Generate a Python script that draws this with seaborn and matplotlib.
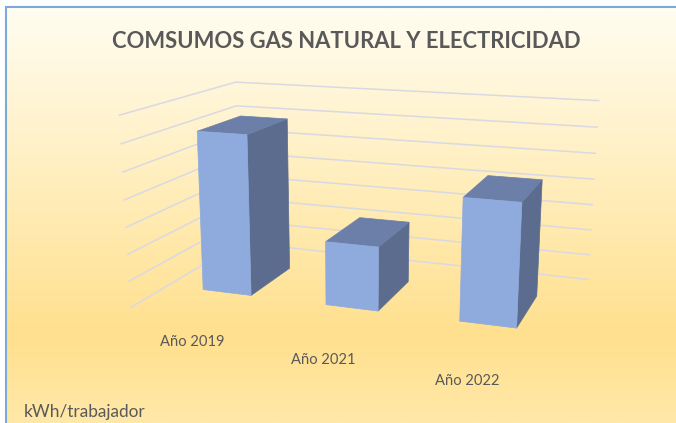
import numpy as np
import pandas as pd
import seaborn as sns
import matplotlib
matplotlib.use("Agg")
import matplotlib.pyplot as plt
from matplotlib.colors import LinearSegmentedColormap

# ---- data ----
CATEGORIES = ["Año 2019", "Año 2021", "Año 2022"]
VALUES = [6.07, 2.38, 4.43]
GRID_LEVELS = [0, 1, 2, 3, 4, 5, 6, 7]
TITLE = "COMSUMOS GAS NATURAL Y ELECTRICIDAD"
UNIT_LABEL = "kWh/trabajador"

# ---- perspective camera: (category, value, depth) -> figure pixels ----
CAMERA = np.array([[115.156747, -2.350765, 160.204814, 130.239962],
                   [2.871805, -28.278713, -14.337953, 307.746148],
                   [-0.042706, -0.006682, 0.209225, 1.0]])
BAR_WIDTH, DEPTH_FRONT, DEPTH_BACK = 0.40, 0.304, 0.703


def project(x, y, z):
    h = CAMERA @ np.array([x, y, z, 1.0])
    return h[0] / h[2], h[1] / h[2]


sns.set_theme(style="white")
plt.rcParams["font.family"] = ["Lato", "DejaVu Sans"]
fig = plt.figure(figsize=(6.76, 4.23), dpi=100)
ax = fig.add_axes([0, 0, 1, 1])

# chart-area background
stops = [(0.0, "#FFFDF1"), (0.79, "#FFE08E"), (1.0, "#FFE8A8")]
cmap = LinearSegmentedColormap.from_list("bg", stops)
ax.imshow(np.linspace(0, 1, 256)[:, None], cmap=cmap, aspect="auto",
          extent=(6, 676, 423, 8), zorder=0)
ax.plot([5.5, 5.5], [7, 423], color="#7BA9D9", lw=1.5, zorder=1, solid_capstyle="butt")
ax.plot([5, 676], [7.5, 7.5], color="#7BA9D9", lw=1.5, zorder=1, solid_capstyle="butt")

# gridlines on the side and back walls
rows = []
n_cats = len(CATEGORIES)
for level in GRID_LEVELS:
    for order, (cx, cz) in enumerate([(0, 0), (0, 1), (n_cats, 1)]):
        px, py = project(cx, level, cz)
        rows.append({"px": px, "py": py, "level": level, "order": order})
grid = pd.DataFrame(rows)
sns.lineplot(data=grid, x="px", y="py", units="level", estimator=None, sort=False,
             color="#D9D9E3", lw=1.1, ax=ax, zorder=2)

# bars
FRONT, TOP, SIDE = "#8FAADC", "#6B7FA8", "#5B6C8F"
for i, value in enumerate(VALUES):
    x0 = i + 0.5 - BAR_WIDTH / 2
    x1 = i + 0.5 + BAR_WIDTH / 2
    faces = [
        (SIDE, [(x1, 0, DEPTH_FRONT), (x1, value, DEPTH_FRONT), (x1, value, DEPTH_BACK), (x1, 0, DEPTH_BACK)]),
        (TOP, [(x0, value, DEPTH_FRONT), (x1, value, DEPTH_FRONT), (x1, value, DEPTH_BACK), (x0, value, DEPTH_BACK)]),
        (FRONT, [(x0, 0, DEPTH_FRONT), (x1, 0, DEPTH_FRONT), (x1, value, DEPTH_FRONT), (x0, value, DEPTH_FRONT)]),
    ]
    for colour, corners in faces:
        pts = [project(*c) for c in corners]
        ax.fill(*zip(*pts), facecolor=colour, edgecolor=colour, lw=0.5, zorder=3)

# category labels hang under the front floor edge
for i, label in enumerate(CATEGORIES):
    lx, ly = project(i + 0.5, -0.98, 0)
    ax.text(lx - 0.5, ly, label, ha="center", va="center", fontsize=10.6, color="#595959", zorder=4)

ax.text(346, 41, TITLE, ha="center", va="center", fontsize=15.8, fontweight="bold",
        color="#595959", zorder=4)
ax.text(24, 412, UNIT_LABEL, ha="left", va="center", fontsize=12.4, color="#595959", zorder=4)

ax.set_xlim(0, 676)
ax.set_ylim(423, 0)
ax.set_xlabel("")
ax.set_ylabel("")
ax.axis("off")
fig.savefig("out.png", dpi=100, facecolor="white")
